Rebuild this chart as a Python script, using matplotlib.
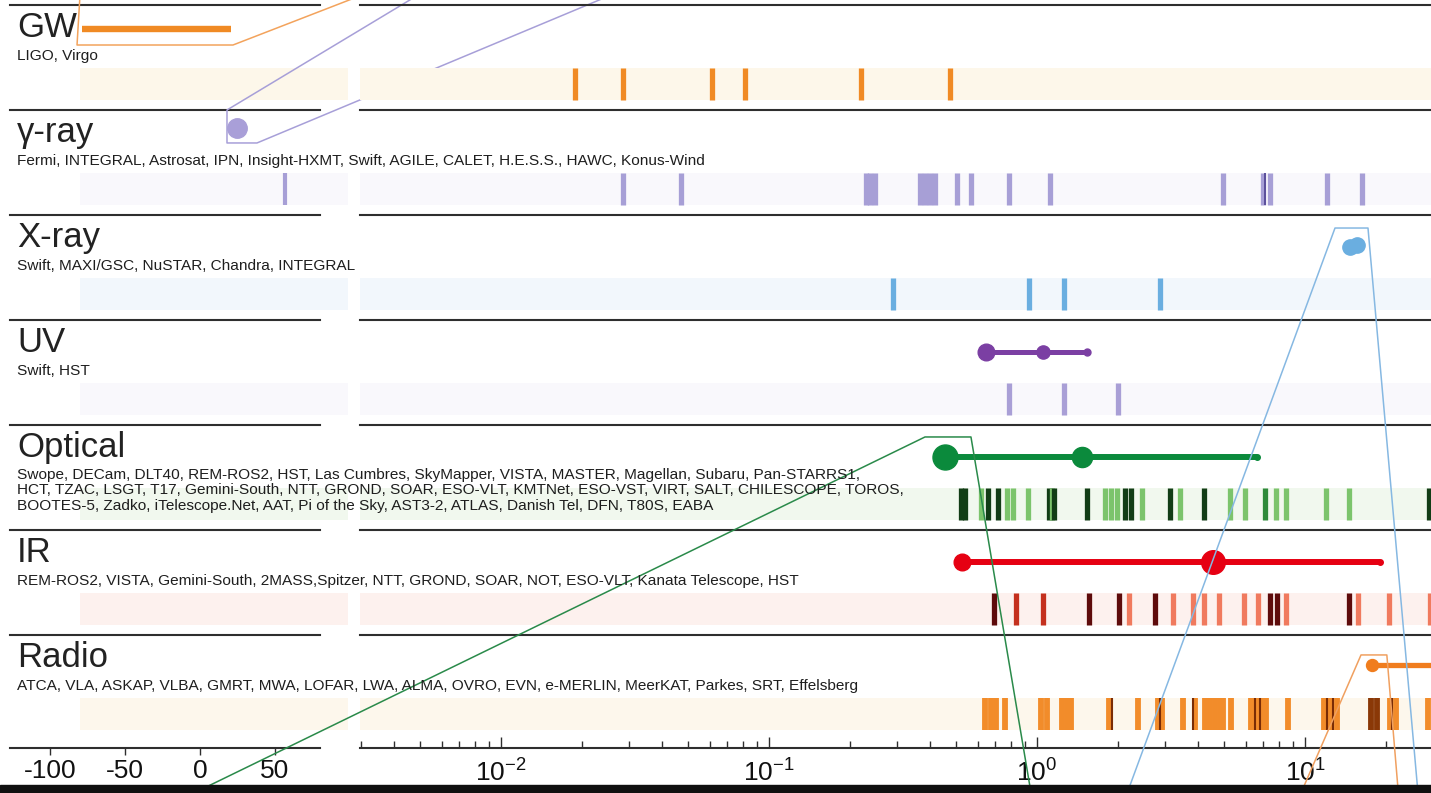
import matplotlib.pyplot as plt
import matplotlib.transforms as mtransforms
from matplotlib.patches import Rectangle

plt.rcParams['font.family'] = ['Liberation Sans', 'DejaVu Sans']
plt.rcParams['mathtext.default'] = 'regular'
plt.rcParams['axes.unicode_minus'] = False

W, H = 1431, 793

# ---- rows -------------------------------------------------------------
bands = ['GW', 'γ-ray', 'X-ray', 'UV', 'Optical', 'IR', 'Radio']
instruments = [
    ['LIGO, Virgo'],
    ['Fermi, INTEGRAL, Astrosat, IPN, Insight-HXMT, Swift, AGILE, CALET, H.E.S.S., HAWC, Konus-Wind'],
    ['Swift, MAXI/GSC, NuSTAR, Chandra, INTEGRAL'],
    ['Swift, HST'],
    ['Swope, DECam, DLT40, REM-ROS2, HST, Las Cumbres, SkyMapper, VISTA, MASTER, Magellan, Subaru, Pan-STARRS1,',
     'HCT, TZAC, LSGT, T17, Gemini-South, NTT, GROND, SOAR, ESO-VLT, KMTNet, ESO-VST, VIRT, SALT, CHILESCOPE, TOROS,',
     'BOOTES-5, Zadko, iTelescope.Net, AAT, Pi of the Sky, AST3-2, ATLAS, Danish Tel, DFN, T80S, EABA'],
    ['REM-ROS2, VISTA, Gemini-South, 2MASS,Spitzer, NTT, GROND, SOAR, NOT, ESO-VLT, Kanata Telescope, HST'],
    ['ATCA, VLA, ASKAP, VLBA, GMRT, MWA, LOFAR, LWA, ALMA, OVRO, EVN, e-MERLIN, MeerKAT, Parkes, SRT, Effelsberg'],
]
band_bg = ['#fdf7ea', '#f9f8fc', '#f2f7fc', '#f9f8fc', '#f1f8ee', '#fdf1ee', '#fdf7ec']

# ---- observation epochs (days after merger, log panel) -----------------
gw_days = [0.0189, 0.0285, 0.0612, 0.0813, 0.220, 0.473]
gamma_days = [0.0285, 0.0469, 0.230, 0.238, 0.249, 0.366, 0.382, 0.399, 0.416,
              0.503, 0.567, 0.786, 1.118, 4.94, 6.97, 7.40, 12.08, 16.3]
gamma_mark_days = [7.09]
xray_days = [0.290, 0.933, 1.26, 2.88]
uv_days = [0.787, 1.26, 2.01]
optical_days = [0.520, 0.540, 0.618, 0.656, 0.715, 0.773, 0.814, 0.926, 1.109, 1.133,
                1.157, 1.537, 1.794, 1.888, 1.989, 2.130, 2.243, 2.465, 3.135, 3.418,
                4.200, 5.250, 5.973, 7.092, 7.796, 8.496, 11.98, 14.60, 29.0]
optical_shade = [0, 0, 2, 0, 0, 2, 2, 2, 0, 2,
                 0, 0, 2, 2, 2, 0, 0, 2, 0, 2,
                 0, 2, 2, 1, 2, 2, 2, 2, 0]
ir_days = [0.691, 0.835, 1.053, 1.563, 2.023, 2.204, 2.757, 3.218, 3.819, 4.200,
           4.777, 5.919, 6.677, 7.40, 7.87, 8.50, 14.60, 15.77, 20.58, 29.3]
ir_shade = [0, 1, 1, 0, 0, 2, 0, 2, 2, 2,
            2, 2, 2, 0, 0, 2, 0, 2, 2, 2]
radio_days = [0.640, 0.673, 0.703, 0.760, 1.035, 1.090, 1.240, 1.294, 1.339, 1.857,
              2.382, 2.827, 2.930, 3.505, 3.890, 4.236, 4.420, 4.620, 4.820, 4.940,
              5.290, 6.290, 6.560, 6.850, 7.150, 8.640, 11.77, 12.40, 13.16, 17.63,
              18.56, 20.76, 21.86, 28.8]
radio_shade = [0, 0, 0, 0, 0, 0, 0, 0, 0, 0,
               0, 0, 0, 0, 0, 0, 0, 0, 0, 0,
               0, 0, 0, 0, 0, 0, 0, 0, 0, 1,
               1, 0, 0, 0]
radio_mark_days = [1.905, 2.877, 3.82, 6.51, 6.79, 12.08, 12.71, 21.1]

# seconds around merger (linear panel)
gamma_secs = [56.7]
gw_signal_secs = [-79, 21]
gamma_flash_secs = [25]

# detections (days)
xray_det_days = [14.7, 15.6]
uv_det_days = [0.645, 1.05, 1.54]
optical_det_days = [0.454, 1.47, 6.62]
ir_det_days = [0.525, 4.54, 19.05]
radio_det_days = [17.8, 60.0]

# ---- figure / axes ------------------------------------------------------
fig = plt.figure(figsize=(W / 100, H / 100), dpi=100)


def px_rect(x0, y0, x1, y1):
    return [x0 / W, 1 - y1 / H, (x1 - x0) / W, (y1 - y0) / H]


axL = fig.add_axes(px_rect(10, 5, 348, 748))
axR = fig.add_axes(px_rect(360, 5, 1431, 748))
nrow_span = 743 / 105.0
for ax in (axL, axR):
    ax.set_ylim(nrow_span, 0)
    ax.patch.set_visible(False)
    for s in ax.spines.values():
        s.set_visible(False)
    ax.set_yticks([])

axL.set_xlim(-126.7, 98.7)
axR.set_xscale('log')
axR.set_xlim(0.002978, 29.52)

line_col = '#2e2e2e'
for y in list(range(7)) + [nrow_span]:
    axL.axhline(y, xmin=0, xmax=0.917, color=line_col, lw=1.5, clip_on=False, zorder=3)
    axR.axhline(y, xmin=0, xmax=1, color=line_col, lw=1.5, clip_on=False, zorder=3)

for i in range(7):
    axL.axhspan(i + 0.6, i + 0.905, xmin=0.207, xmax=1, color=band_bg[i], lw=0, zorder=0)
    axR.axhspan(i + 0.6, i + 0.905, xmin=0, xmax=1, color=band_bg[i], lw=0, zorder=0)

# row labels live on the figure so they sit above the shaded bands
tr = mtransforms.blended_transform_factory(axL.transAxes, axL.transData)
for i, name in enumerate(bands):
    fig.text(0.021, i + 0.305, name, transform=tr, fontsize=25, color='#222222',
             va='baseline', ha='left', zorder=6)
    y0 = i + (0.51 if len(instruments[i]) > 1 else 0.524)
    for k, line in enumerate(instruments[i]):
        fig.text(0.021, y0 + k * 0.148, line, transform=tr, fontsize=11.1,
                 color='#1e1e1e', va='baseline', ha='left', zorder=6)


def bars(ax, row, t, colors, lw=3.8):
    ax.vlines(t, row + 0.6, row + 0.905, colors=colors, lw=lw, zorder=2)


opt_cols = ['#123d16', '#2f8a3a', '#7cc46c']
ir_cols = ['#5e0b0b', '#c4301e', '#f07a5e']
rad_cols = ['#f28c2a', '#8a3807']

bars(axR, 0, gw_days, '#f08a24')
bars(axR, 1, gamma_days, '#a79fd6')
bars(axR, 1, gamma_mark_days, '#5a4f9a', lw=1.4)
bars(axL, 1, gamma_secs, '#a79fd6', lw=3.0)
bars(axR, 2, xray_days, '#6aaee0')
bars(axR, 3, uv_days, '#a99fd6')
bars(axR, 4, optical_days, [opt_cols[s] for s in optical_shade])
bars(axR, 5, ir_days, [ir_cols[s] for s in ir_shade])
bars(axR, 6, radio_days, [rad_cols[s] for s in radio_shade], lw=4.2)
bars(axR, 6, radio_mark_days, '#7a2c05', lw=1.5)


def detection(ax, row, t, sizes, color, lw=4.3, dy=0.305):
    y = row + dy
    ax.plot([t[0], t[-1]], [y, y], color=color, lw=lw, solid_capstyle='butt',
             zorder=4, clip_on=True)
    for tt, s in zip(t, sizes):
        ax.plot([tt], [y], 'o', ms=s, color=color, mec=color, zorder=4)


axL.plot(gw_signal_secs, [0.229, 0.229], color='#f08a24', lw=4.6,
         solid_capstyle='butt', zorder=4)
axL.plot(gamma_flash_secs, [1.171], 'o', ms=14, color='#a99fd8', zorder=4)
axR.plot(xray_det_days, [2.305, 2.29], 'o', ms=11, color='#6aaee0', zorder=4)
detection(axR, 3, uv_det_days, [12, 9.5, 5], '#7b3fa3', lw=3.6)
detection(axR, 4, optical_det_days, [18, 14.5, 4], '#0b8a3c')
detection(axR, 5, ir_det_days, [12, 17, 4], '#e60012')
detection(axR, 6, radio_det_days, [8.6, 0], '#f07d1e', lw=3.8, dy=0.286)

# zoom callouts pointing to the insets outside this view
callouts = [
    (axL, [-80, -82, 22, 109], [-0.1, 0.381, 0.381, -0.1], '#f3a35c'),
    (axL, [146, 18, 18, 38, 275], [-0.1, 1.0, 1.314, 1.314, -0.1], '#a79fd8'),
    (axR, [0.000715, 0.382, 0.567, 0.95], [7.505, 4.114, 4.114, 7.505], '#2a8a4a'),
    (axR, [2.17, 12.94, 17.18, 26.4], [7.505, 2.124, 2.124, 7.505], '#86b8e2'),
    (axR, [9.66, 16.18, 20.2, 22.3], [7.505, 6.19, 6.19, 7.505], '#f0a060'),
]
for ax, xs, ys, c in callouts:
    ax.plot(xs, ys, color=c, lw=1.1, clip_on=False, zorder=5)

axL.set_xticks([-100, -50, 0, 50])
axL.tick_params(axis='x', direction='out', length=5, width=1, colors=line_col,
                labelsize=19, labelcolor='#111111', pad=3)
axR.tick_params(axis='x', which='major', direction='in', length=8, width=1,
                colors=line_col, labelsize=19, labelcolor='#111111', pad=8)
axR.tick_params(axis='x', which='minor', direction='in', length=5, width=1,
                colors=line_col)

fig.add_artist(Rectangle((0, 0), 1, 8 / H, transform=fig.transFigure,
                         color='#101010', zorder=10))

fig.savefig('out.png', dpi=100)
